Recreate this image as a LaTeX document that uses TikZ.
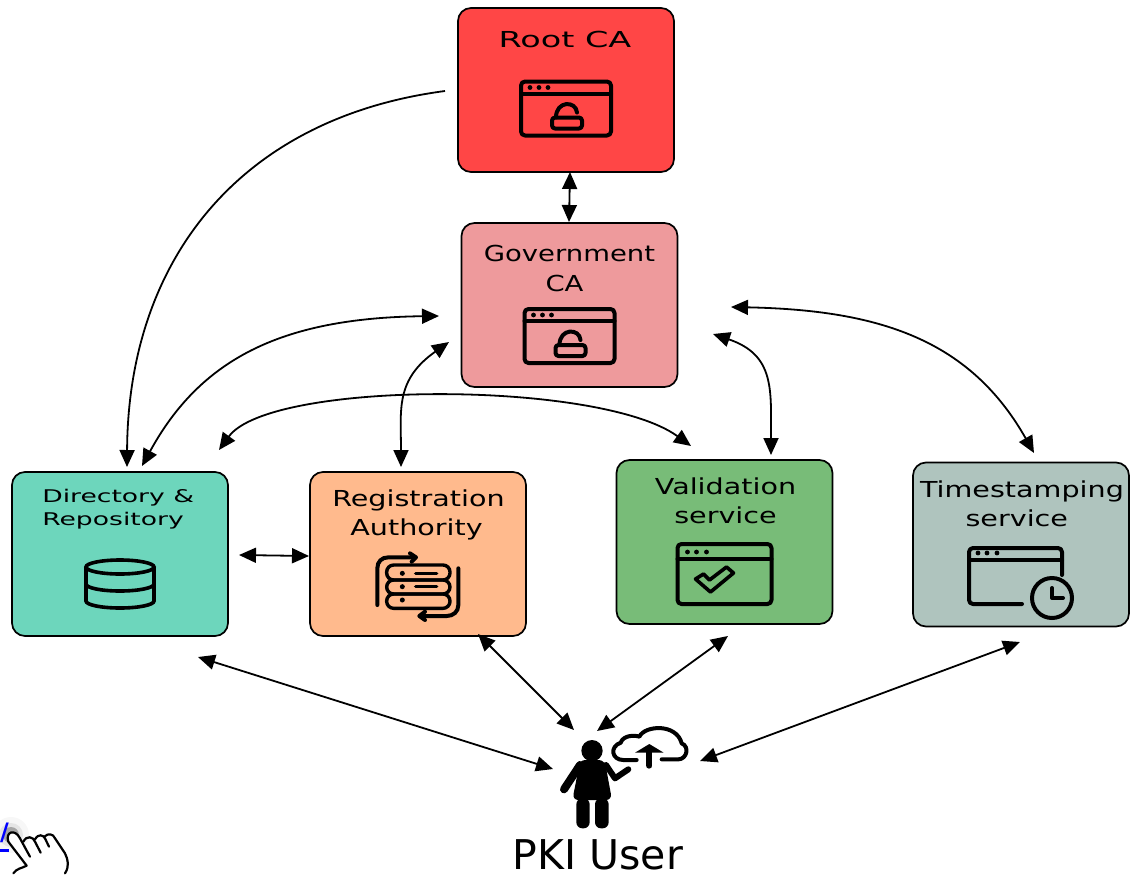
\documentclass[tikz,border=0pt]{standalone}
\usepackage{fontspec}
\setmainfont{DejaVu Sans}
\usepackage{tikz}
\usetikzlibrary{arrows.meta}
\definecolor{rootred}{HTML}{FF4646}
\definecolor{govpink}{HTML}{EE9A9C}
\definecolor{dirteal}{HTML}{6DD6BC}
\definecolor{raorange}{HTML}{FFBA8D}
\definecolor{valgreen}{HTML}{78BC78}
\definecolor{timegrey}{HTML}{AFC4BE}
\tikzset{
  >={Triangle[length=17pt,width=15pt]},
  box/.style={draw,line width=1.7pt,rounded corners=13pt,minimum width=216pt,minimum height=164pt,inner sep=0pt},
  lbl/.style={inner sep=0pt,align=center,font=\fontsize{22}{29.5}\selectfont,xscale=1.30,transform shape},
  smalllbl/.style={inner sep=0pt,align=left,font=\fontsize{17.5}{23}\selectfont,xscale=1.52,transform shape},
  conn/.style={line width=1.8pt},
  ico/.style={line width=4pt,line cap=round,line join=round},
  windowicon/.pic={
    \draw[ico,rounded corners=4pt] (-45,-27) rectangle (45,27);
    \draw[ico] (-45,-15) -- (45,-15);
    \foreach \dotx in {-36,-27,-18} \fill (\dotx,-21) circle (2.4pt);
    \draw[ico,rounded corners=3pt] (-14,9) rectangle (16,20);
    \draw[ico] (-10,9) .. controls (-10,-8) and (10,-8) .. (11,4);
  },
  checkicon/.pic={
    \draw[ico,rounded corners=4pt] (-47,-30) rectangle (47,30);
    \draw[ico] (-47,-15) -- (47,-15);
    \foreach \dotx in {-37,-28,-18} \fill (\dotx,-22) circle (2.4pt);
    \draw[line width=3.6pt,line join=round] (-29,5) -- (-21,0) -- (-15,6) -- (2,-7) -- (9,-1) -- (-14,18) -- cycle;
  },
  clockicon/.pic={
    \draw[ico,rounded corners=4pt] (22,44) -- (-31,44) -- (-31,-12) -- (62,-12) -- (62,15);
    \draw[ico] (-31,0) -- (62,0);
    \foreach \dotx in {-22,-13,-3} \fill (\dotx,-7) circle (2.4pt);
    \draw[ico] (52,38) circle (20pt);
    \draw[ico] (52,28) -- (52,38) -- (63,38);
  },
  dbicon/.pic={
    \draw[line width=3.6pt] (0,-17) ellipse (34pt and 7pt);
    \draw[line width=3.6pt] (-34,-17) -- (-34,17) arc[start angle=180,end angle=360,x radius=34,y radius=-7] -- (34,-17);
    \draw[line width=3.6pt] (-34,0) arc[start angle=180,end angle=360,x radius=34,y radius=-7];
  },
  stackicon/.pic={
    \draw[ico,line width=3.4pt,rounded corners=7pt] (110,105) rectangle (300,150);
    \draw[ico,line width=3.4pt,rounded corners=7pt] (110,150) rectangle (300,192);
    \draw[ico,line width=3.4pt,rounded corners=7pt] (110,192) rectangle (300,235);
    \foreach \doty in {130,170,210} \fill (157,\doty) circle (7.5pt);
    \draw[ico,line width=3.4pt] (197,130) -- (260,130);
    \draw[ico,line width=3.4pt] (197,170) -- (260,170);
    \draw[ico] (82,225) -- (82,115) .. controls (82,95) and (95,82) .. (115,82) -- (195,82);
    \draw[ico] (180,70) -- (198,82) -- (185,95);
    \draw[ico] (325,115) -- (325,225) .. controls (325,245) and (310,258) .. (290,258) -- (210,258);
    \draw[ico] (225,245) -- (208,258) -- (225,270);
  },
  usericon/.pic={
    \fill (276,152) ellipse (32pt and 32pt);
    \fill[rounded corners=6pt] (238,180) -- (314,180) -- (324,235) -- (336,300) -- (217,300) -- (230,235) -- cycle;
    \fill[rounded corners=6pt] (229,295) rectangle (269,385);
    \fill[rounded corners=6pt] (285,295) rectangle (326,385);
    \draw[line width=8pt,line cap=round] (240,195) -- (192,268);
    \draw[line width=6pt,line cap=round,line join=round] (318,195) -- (345,235) -- (385,208);
  },
  cloudicon/.pic={
    \draw[line width=4pt,line cap=round,line join=round,fill=white] (410,180) -- (370,180) .. controls (335,180) and (328,140) .. (362,128)
      .. controls (370,105) and (405,105) .. (418,110) .. controls (435,75) and (530,70) .. (545,130)
      .. controls (570,140) and (560,178) .. (535,178) -- (485,178);
    \fill (405,158) -- (448,132) -- (491,158) -- cycle;
    \draw[line width=6pt,line cap=round] (448,155) -- (448,197);
  },
  handicon/.pic={
    \draw[line width=2.2pt,line join=round,line cap=round,fill=white] (40,520) .. controls (50,505) and (65,505) .. (80,497) -- (25,425)
      .. controls (15,395) and (45,385) .. (60,415) -- (90,470);
    \draw[line width=2.2pt,line cap=round] (70,425) .. controls (80,405) and (100,410) .. (105,425) -- (122,458);
    \draw[line width=2.2pt,line cap=round] (105,418) .. controls (115,400) and (130,405) .. (135,415) -- (147,440);
    \draw[line width=2.2pt,line cap=round] (133,410) .. controls (145,398) and (160,402) .. (165,415) -- (195,460) .. controls (205,480) and (208,500) .. (195,520);
  },
}
\begin{document}
\begin{tikzpicture}[x=1pt,y=-1pt]
    \useasboundingbox (0,0) rectangle (1130,879);
    % boxes
    \node[box,fill=rootred] (Root) at (566,90) {};
    \node[box,fill=govpink] (Gov) at (569.5,305) {};
    \node[box,fill=dirteal] (Dir) at (120,554) {};
    \node[box,fill=raorange] (RA) at (418,554) {};
    \node[box,fill=valgreen] (Val) at (724.5,542) {};
    \node[box,fill=timegrey] (Time) at (1021,544.5) {};
    % labels
    \node[lbl,xscale=1.17] (RootL) at (565,39) {Root CA};
    \node[lbl,xscale=0.96] (GovL) at (569.5,268.5) {Government\\CA\hspace*{8pt}};
    \node[smalllbl,anchor=west] (DirL) at (42,509) {Directory \&\\Repository};
    \node[lbl] (RAL) at (418.5,515) {Registration\\Authority\hspace*{3pt}};
    \node[lbl] (ValL) at (725.5,501) {Validation\\service};
    \node[lbl] (TimeL) at (1022,504) {Timestamping\\service\hspace*{8pt}};
    % icons
    \pic at (566,108.5) {windowicon};
    \pic at (569.5,336) {windowicon};
    \pic at (120,584) {dbicon};
    \pic[scale=1/3] at (350,530) {stackicon};
    \pic at (724.5,574) {checkicon};
    \pic at (1000,560) {clockicon};
    \pic[scale=1/3] at (500,700) {usericon};
    \pic[scale=1/3] at (500,700) {cloudicon};
    % user
    \node[inner sep=0pt,anchor=base,font=\fontsize{41}{44}\selectfont] (User) at (598,869) {PKI User};
    % link and hand
    \foreach \ringr/\ringc in {18/black!3,12/black!10,8/black!35} \fill[\ringc] (11,835) circle (\ringr pt);
    \node[inner sep=0pt,anchor=west,text=blue,font=\fontsize{24}{26}\selectfont\bfseries] (Link) at (0,833) {/};
    \coordinate (LinkA) at (0,850.5);
    \coordinate (LinkB) at (9,850.5);
    \draw[blue,line width=2.6pt] (LinkA) -- (LinkB);
    \pic[scale=1/3] at (0,700) {handicon};
    % connector ends
    \coordinate (a1) at (445,91);
    \coordinate (a2) at (127,467);
    \coordinate (b1) at (570,172);
    \coordinate (b2) at (569,222);
    \coordinate (c1) at (142,466);
    \coordinate (c2) at (439,316);
    \coordinate (d1) at (401,467);
    \coordinate (d2) at (449,342);
    \coordinate (e1) at (219,450);
    \coordinate (e2) at (691,446);
    \coordinate (f1) at (771,455);
    \coordinate (f2) at (713,334);
    \coordinate (g1) at (1034,453);
    \coordinate (g2) at (731,307);
    \coordinate (h1) at (239,555);
    \coordinate (h2) at (309,556);
    \coordinate (i1) at (198,657);
    \coordinate (i2) at (553,769);
    \coordinate (j1) at (478,634);
    \coordinate (j2) at (574,730);
    \coordinate (k1) at (728,636);
    \coordinate (k2) at (597,731);
    \coordinate (m1) at (1020,642);
    \coordinate (m2) at (700,761);
    % connectors
    \draw[conn,->] (a1) .. controls (240,118) and (128,260) .. (a2);
    \draw[conn,<->] (b1) -- (b2);
    \draw[conn,<->] (c1) .. controls (200,360) and (280,318) .. (c2);
    \draw[conn,<->] (d1) .. controls (401,410) and (395,380) .. (d2);
    \draw[conn,<->] (e1) .. controls (270,380) and (600,380) .. (e2);
    \draw[conn,<->] (f1) .. controls (771,390) and (775,355) .. (f2);
    \draw[conn,<->] (g1) .. controls (970,340) and (880,310) .. (g2);
    \draw[conn,<->] (h1) -- (h2);
    \draw[conn,<->] (i1) -- (i2);
    \draw[conn,<->] (j1) -- (j2);
    \draw[conn,<->] (k1) -- (k2);
    \draw[conn,<->] (m1) -- (m2);
  \end{tikzpicture}
\end{document}
